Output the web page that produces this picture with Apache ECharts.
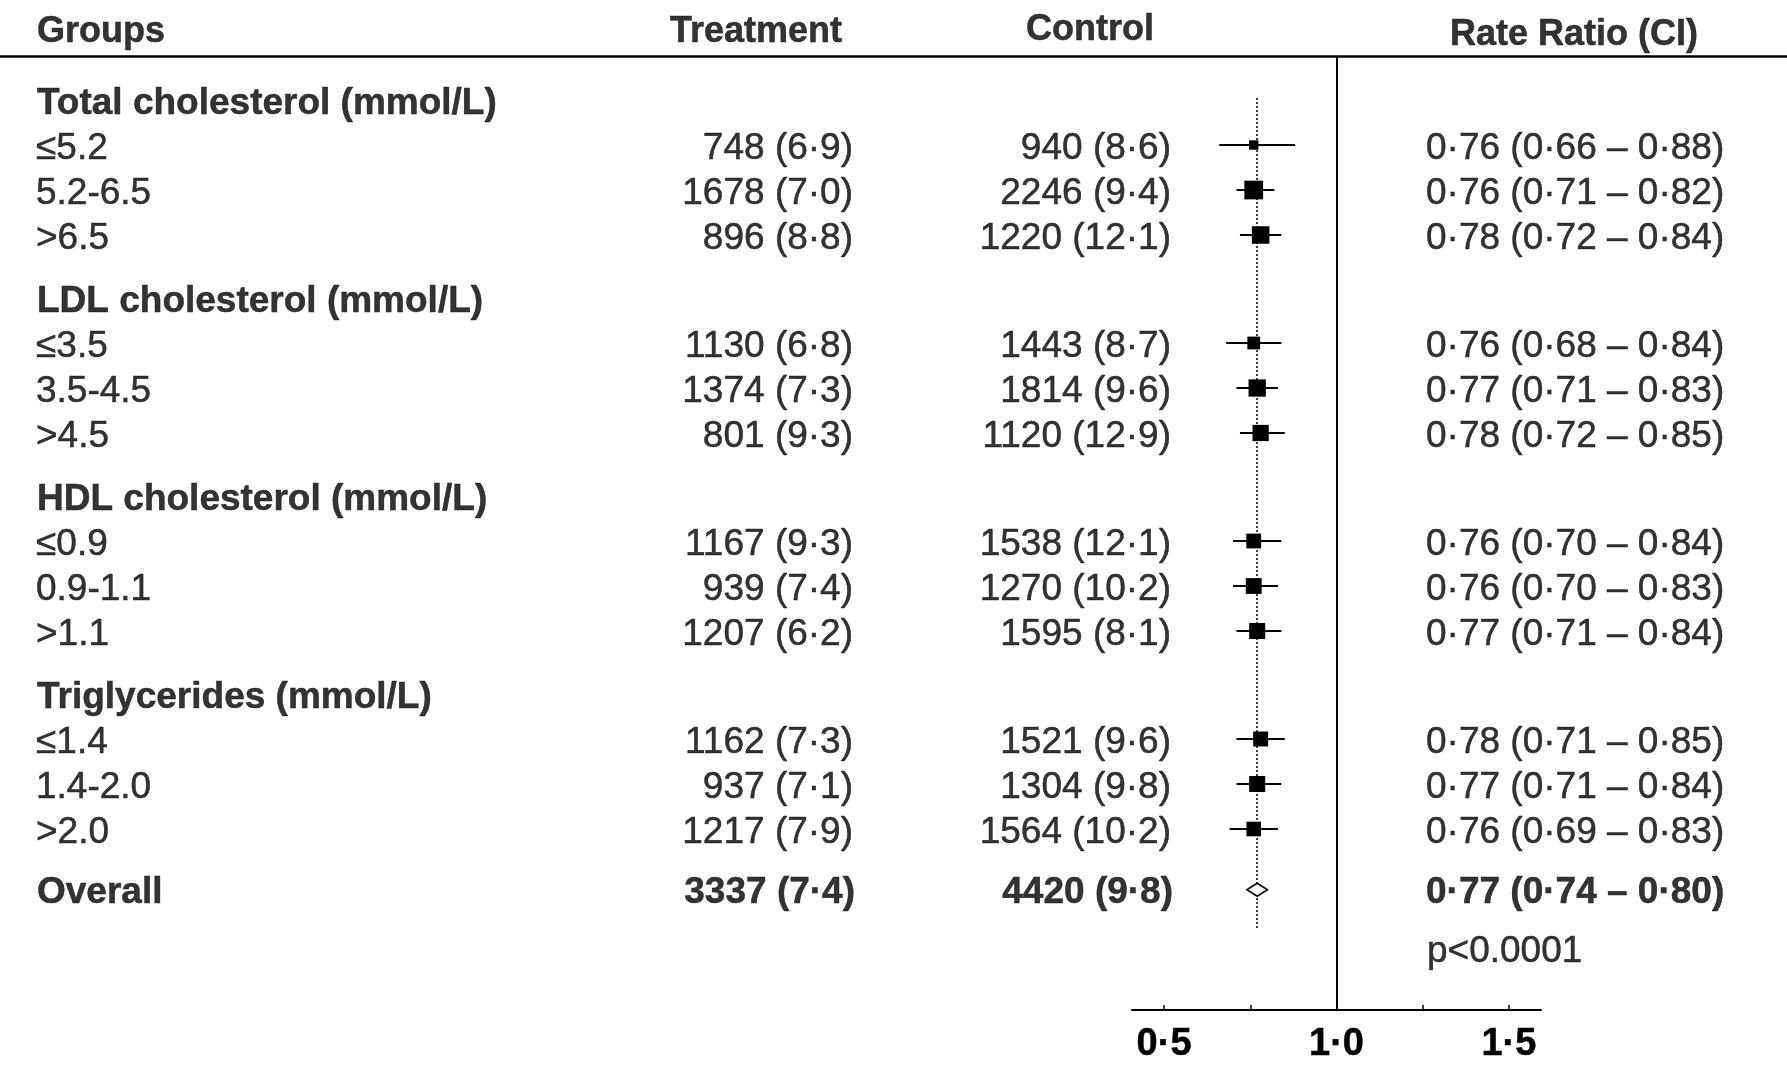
<!DOCTYPE html>
<html>
<head>
<meta charset="utf-8">
<script src="https://cdn.jsdelivr.net/npm/echarts@6.0.0/dist/echarts.min.js"></script>
<style>
html,body{margin:0;padding:0;background:#ffffff;}
#chart{width:1787px;height:1066px;}
</style>
</head>
<body>
<div id="chart"></div>
<script>
// ---------------- DATA ----------------
const columnHeaders = ['Groups', 'Treatment', 'Control', 'Rate Ratio (CI)'];
const groupNames = ['Total cholesterol (mmol/L)', 'LDL cholesterol (mmol/L)', 'HDL cholesterol (mmol/L)', 'Triglycerides (mmol/L)'];
const subgroupLabels = [
  ['≤5.2', '5.2-6.5', '>6.5'],
  ['≤3.5', '3.5-4.5', '>4.5'],
  ['≤0.9', '0.9-1.1', '>1.1'],
  ['≤1.4', '1.4-2.0', '>2.0']
];
const treatmentEvents = [748, 1678, 896, 1130, 1374, 801, 1167, 939, 1207, 1162, 937, 1217];
const treatmentRates  = [6.9, 7.0, 8.8, 6.8, 7.3, 9.3, 9.3, 7.4, 6.2, 7.3, 7.1, 7.9];
const controlEvents   = [940, 2246, 1220, 1443, 1814, 1120, 1538, 1270, 1595, 1521, 1304, 1564];
const controlRates    = [8.6, 9.4, 12.1, 8.7, 9.6, 12.9, 12.1, 10.2, 8.1, 9.6, 9.8, 10.2];
const rateRatios      = [0.76, 0.76, 0.78, 0.76, 0.77, 0.78, 0.76, 0.76, 0.77, 0.78, 0.77, 0.76];
const ciLower         = [0.66, 0.71, 0.72, 0.68, 0.71, 0.72, 0.70, 0.70, 0.71, 0.71, 0.71, 0.69];
const ciUpper         = [0.88, 0.82, 0.84, 0.84, 0.83, 0.85, 0.84, 0.83, 0.84, 0.85, 0.84, 0.83];
const overallLabel = 'Overall';
const overallTreatment = [3337, 7.4];
const overallControl = [4420, 9.8];
const overallRatio = [0.77, 0.74, 0.80];
const pValueText = 'p<0.0001';
const axisTickValues = [0.5, 0.75, 1.0, 1.25, 1.5];
const axisLabelValues = [0.5, 1.0, 1.5];
const nullValue = 1.0;

// ---------------- LAYOUT ----------------
const W = 1787;
const GRID_TOP = 10, GRID_H = 1000, ROW_PX = 45;
const Y_MIN = -2, Y_MAX = Y_MIN + GRID_H / ROW_PX;
const GROUP_GAP = 0.4;
const pxToSlot = y => (y - GRID_TOP) / ROW_PX + Y_MIN;
const FOREST_LEFT = 1132, FOREST_W = 409;
const X_MIN = 0.407, X_MAX = 1.593;
const COL = { label: 37, sub: 36, treatRight: 853, ctrlRight: 1171, rrLeft: 1426,
              treatHead: 756, ctrlHead: 1090, rrHead: 1574 };
const FONT = "'Liberation Sans', Arial, Helvetica, sans-serif";
const REG = 37, BOLD = 37, HEAD = 36, AXIS_FS = 38;
const TEXT_DY = 3.5;

const dot = (v, d) => v.toFixed(d).replace('.', '·');
const ciText = (r, l, h) => dot(r, 2) + ' (' + dot(l, 2) + ' – ' + dot(h, 2) + ')';
const countText = (n, r) => n + ' (' + dot(r, 1) + ')';

// build rows
const textItems = [];
function addText(text, x, slot, align, weight, size) {
  textItems.push({
    name: text, value: [x, slot],
    label: { align: align, fontWeight: weight, fontSize: size, color: '#000' }
  });
}
// column headers
addText(columnHeaders[0], COL.label, pxToSlot(28.5), 'left', 'bold', HEAD);
addText(columnHeaders[1], COL.treatHead, pxToSlot(28.5), 'center', 'bold', HEAD);
addText(columnHeaders[2], COL.ctrlHead, pxToSlot(26.5), 'center', 'bold', HEAD);
addText(columnHeaders[3], COL.rrHead, pxToSlot(32), 'center', 'bold', HEAD);

const forestData = [];
groupNames.forEach((g, gi) => {
  const hs = gi * (4 + GROUP_GAP);
  addText(g, COL.label, hs, 'left', 'bold', BOLD);
  subgroupLabels[gi].forEach((s, j) => {
    const i = gi * 3 + j;
    const slot = hs + j + 1;
    addText(s, COL.sub, slot, 'left', 'normal', REG);
    addText(countText(treatmentEvents[i], treatmentRates[i]), COL.treatRight, slot, 'right', 'normal', REG);
    addText(countText(controlEvents[i], controlRates[i]), COL.ctrlRight, slot, 'right', 'normal', REG);
    addText(ciText(rateRatios[i], ciLower[i], ciUpper[i]), COL.rrLeft, slot, 'left', 'normal', REG);
    forestData.push([rateRatios[i], slot, ciLower[i], ciUpper[i]]);
  });
});
const overallSlot = groupNames.length * (4 + GROUP_GAP) - 0.05;
addText(overallLabel, COL.label, overallSlot, 'left', 'bold', BOLD);
addText(countText(overallTreatment[0], overallTreatment[1]), COL.treatRight + 2, overallSlot, 'right', 'bold', BOLD);
addText(countText(overallControl[0], overallControl[1]), COL.ctrlRight + 2, overallSlot, 'right', 'bold', BOLD);
addText(ciText(overallRatio[0], overallRatio[1], overallRatio[2]), COL.rrLeft, overallSlot, 'left', 'bold', BOLD);
addText(pValueText, COL.rrLeft + 1, overallSlot + 1.3, 'left', 'normal', REG);

const headerLineSlot = pxToSlot(56);
const BOX_SCALE = 2.7; // box side ∝ 1/log(CI ratio) (inverse standard error)

const chart = echarts.init(document.getElementById('chart'), null, { renderer: 'canvas' });
chart.setOption({
  backgroundColor: '#ffffff',
  animation: false,
  textStyle: { fontFamily: FONT, color: '#000' },
  grid: [
    { left: 0, top: GRID_TOP, width: W, height: GRID_H },
    { left: FOREST_LEFT, top: GRID_TOP, width: FOREST_W, height: GRID_H }
  ],
  xAxis: [
    { gridIndex: 0, type: 'value', min: 0, max: W, show: false },
    {
      gridIndex: 1, type: 'value', min: X_MIN, max: X_MAX,
      axisLine: { show: true, onZero: false, lineStyle: { color: '#000', width: 2 } },
      axisTick: { show: true, inside: true, length: 5, customValues: axisTickValues,
                  lineStyle: { color: '#000', width: 1.5 } },
      axisLabel: { show: true, customValues: axisLabelValues, margin: 16,
                   formatter: v => dot(v, 1),
                   fontFamily: FONT, fontWeight: 'bold', fontSize: AXIS_FS, color: '#000',
                   textBorderColor: '#000', textBorderWidth: 0.5 },
      splitLine: { show: false }
    }
  ],
  yAxis: [
    { gridIndex: 0, type: 'value', inverse: true, min: Y_MIN, max: Y_MAX, show: false },
    { gridIndex: 1, type: 'value', inverse: true, min: Y_MIN, max: Y_MAX, show: false }
  ],
  series: [
    {
      type: 'scatter', xAxisIndex: 0, yAxisIndex: 0, symbolSize: 0, silent: true,
      data: textItems,
      label: {
        show: true, position: 'inside', verticalAlign: 'middle', color: '#000',
        offset: [0, TEXT_DY], textBorderColor: '#000', textBorderWidth: 0.5,
        fontFamily: FONT, formatter: p => p.name
      },
      markLine: {
        silent: true, symbol: ['none', 'none'], label: { show: false },
        lineStyle: { color: '#000', width: 2.5, type: 'solid' },
        data: [[{ coord: [0, headerLineSlot] }, { coord: [W, headerLineSlot] }]]
      }
    },
    {
      type: 'custom', xAxisIndex: 1, yAxisIndex: 1, silent: true,
      data: forestData,
      renderItem: function (params, api) {
        const y = api.value(1);
        const est = api.coord([api.value(0), y]);
        const lo = api.coord([api.value(2), y]);
        const hi = api.coord([api.value(3), y]);
        const s = BOX_SCALE / Math.log(api.value(3) / api.value(2));
        return {
          type: 'group', children: [
            { type: 'line', shape: { x1: lo[0], y1: lo[1], x2: hi[0], y2: hi[1] },
              style: { stroke: '#000', lineWidth: 2 } },
            { type: 'rect', shape: { x: est[0] - s / 2, y: est[1] - s / 2, width: s, height: s },
              style: { fill: '#000' } }
          ]
        };
      },
      markLine: {
        silent: true, symbol: ['none', 'none'], label: { show: false },
        data: [
          [{ coord: [nullValue, headerLineSlot], lineStyle: { color: '#000', width: 2, type: 'solid' } },
           { coord: [nullValue, Y_MAX] }],
          [{ coord: [overallRatio[0], pxToSlot(98)], lineStyle: { color: '#000', width: 1.5, type: [2, 2] } },
           { coord: [overallRatio[0], pxToSlot(930)] }]
        ]
      },
      z: 5
    },
    {
      type: 'custom', xAxisIndex: 1, yAxisIndex: 1, silent: true,
      data: [[overallRatio[0], overallSlot, overallRatio[1], overallRatio[2]]],
      renderItem: function (params, api) {
        const y = api.value(1);
        const est = api.coord([api.value(0), y]);
        const lo = api.coord([api.value(2), y]);
        const hi = api.coord([api.value(3), y]);
        const h = 6.5;
        return {
          type: 'polygon',
          shape: { points: [[lo[0], lo[1]], [est[0], est[1] - h], [hi[0], hi[1]], [est[0], est[1] + h]] },
          style: { fill: '#fff', stroke: '#000', lineWidth: 1.5 }
        };
      },
      z: 6
    }
  ]
});
</script>
</body>
</html>
